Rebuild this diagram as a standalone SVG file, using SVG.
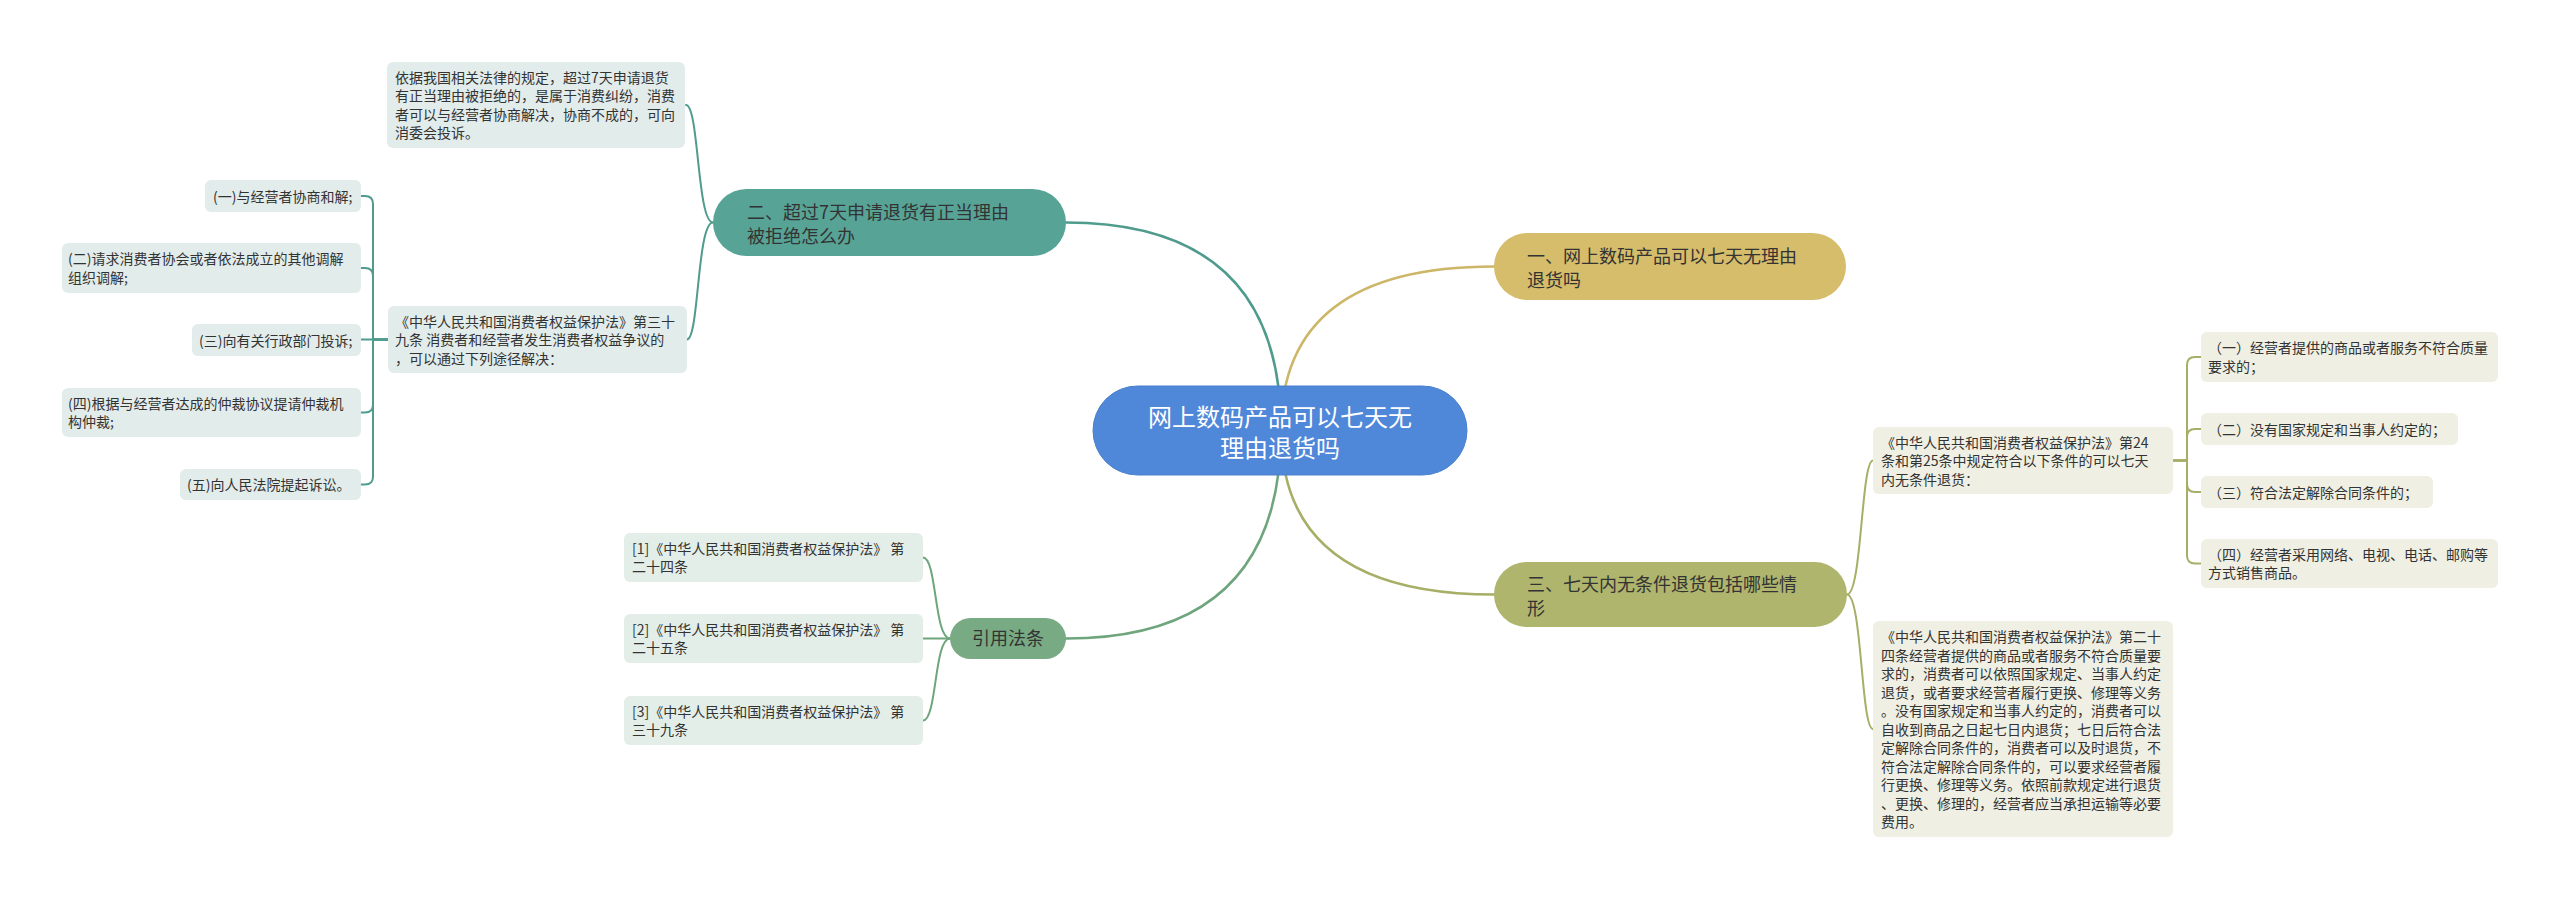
<svg xmlns="http://www.w3.org/2000/svg" width="2560" height="898" viewBox="0 0 2560 898">
<style>
text{font-family:"Noto Sans CJK SC","Microsoft YaHei",sans-serif;fill:#333333}
.c{font-size:24px;fill:#ffffff;text-anchor:middle}
.b{font-size:18px}
.l{font-size:14px}
.ln{fill:none;stroke-width:2.5;stroke-linecap:round}
.lt{fill:none;stroke-width:2;stroke-linecap:round}
.teal{stroke:#4f9b8d}
.gold{stroke:#cdb667}
.olive{stroke:#a7ae66}
.green{stroke:#6ea57c}
.ft{fill:#e2eceb}
.fg{fill:#e3eee8}
.fo{fill:#efefe3}
</style>
<rect width="2560" height="898" fill="#ffffff"/>
<g id="connectors">
<path class="ln teal" d="M1281,430 Q1281,222.5 1066,222.5"/>
<path class="ln gold" d="M1281,430 Q1281,266.5 1494,266.5"/>
<path class="ln green" d="M1281,430 Q1281,638.5 1066,638.5"/>
<path class="ln olive" d="M1281,430 Q1281,594.5 1494,594.5"/>
<path class="lt teal" d="M713,222.5 C697,222.5 699,105 686,105"/>
<path class="lt teal" d="M713,222.5 C697,222.5 699,339.5 687,339.5"/>
<path class="lt teal" d="M388,339.5 H373 V204 Q373,196 365,196 H361"/>
<path class="lt teal" d="M388,339.5 H373 V276 Q373,268 365,268 H361"/>
<path class="lt teal" d="M388,339.5 H361"/>
<path class="lt teal" d="M388,339.5 H373 V404.5 Q373,412.5 365,412.5 H361"/>
<path class="lt teal" d="M388,339.5 H373 V476.5 Q373,484.5 365,484.5 H361"/>
<path class="lt green" d="M950,638.5 C934,638.5 937,557.5 923,557.5"/>
<path class="lt green" d="M950,638.5 H923"/>
<path class="lt green" d="M950,638.5 C934,638.5 937,720.5 923,720.5"/>
<path class="lt olive" d="M1847,594.5 C1862,594.5 1861,460.5 1873,460.5"/>
<path class="lt olive" d="M1847,594.5 C1862,594.5 1861,729 1873,729"/>
<path class="lt olive" d="M2173,460.5 H2187 V365 Q2187,357 2195,357 H2201"/>
<path class="lt olive" d="M2173,460.5 H2187 V437 Q2187,429 2195,429 H2201"/>
<path class="lt olive" d="M2173,460.5 H2187 V484 Q2187,492 2195,492 H2201"/>
<path class="lt olive" d="M2173,460.5 H2187 V555.5 Q2187,563.5 2195,563.5 H2201"/>
</g>
<g id="center">
<rect x="1093" y="386" width="374" height="89" rx="44.5" fill="#4f87d9" stroke="#4a7fcc" stroke-width="1"/>
<text class="c" x="1280" y="425.5">网上数码产品可以七天无</text>
<text class="c" x="1280" y="456.5">理由退货吗</text>
</g>
<g id="branch1">
<rect x="1494" y="233" width="352" height="67" rx="33.5" fill="#d5bd6b"/>
<text class="b" x="1527" y="262.5">一、网上数码产品可以七天无理由</text>
<text class="b" x="1527" y="286.5">退货吗</text>
</g>
<g id="branch2">
<rect x="713" y="189" width="353" height="67" rx="33.5" fill="#57a497"/>
<text class="b" x="747" y="218.5">二、超过7天申请退货有正当理由</text>
<text class="b" x="747" y="242.5">被拒绝怎么办</text>
</g>
<g id="branch3">
<rect x="1494" y="562" width="353" height="65" rx="32.5" fill="#afb56d"/>
<text class="b" x="1527" y="590.5">三、七天内无条件退货包括哪些情</text>
<text class="b" x="1527" y="614.5">形</text>
</g>
<g id="branch4">
<rect x="950" y="618" width="116" height="41" rx="20.5" fill="#78aa84"/>
<text class="b" x="1008" y="645" text-anchor="middle">引用法条</text>
</g>
<g id="b2-leaf1">
<rect class="ft" x="387" y="62" width="298" height="86" rx="6"/>
<text class="l" x="395" y="82.75">依据我国相关法律的规定，超过7天申请退货</text>
<text class="l" x="395" y="101.25">有正当理由被拒绝的，是属于消费纠纷，消费</text>
<text class="l" x="395" y="119.75">者可以与经营者协商解决，协商不成的，可向</text>
<text class="l" x="395" y="138.25">消委会投诉。</text>
</g>
<g id="b2-leaf2">
<rect class="ft" x="388" y="306" width="299" height="67" rx="6"/>
<text class="l" x="395" y="326.5">《中华人民共和国消费者权益保护法》第三十</text>
<text class="l" x="395" y="345">九条 消费者和经营者发生消费者权益争议的</text>
<text class="l" x="395" y="363.5">，可以通过下列途径解决：</text>
</g>
<g id="way1">
<rect class="ft" x="205" y="180" width="156" height="32" rx="6"/>
<text class="l" x="213" y="201.5">(一)与经营者协商和解;</text>
</g>
<g id="way2">
<rect class="ft" x="62" y="243" width="299" height="50" rx="6"/>
<text class="l" x="68" y="264.25">(二)请求消费者协会或者依法成立的其他调解</text>
<text class="l" x="68" y="282.75">组织调解;</text>
</g>
<g id="way3">
<rect class="ft" x="192" y="324" width="169" height="32" rx="6"/>
<text class="l" x="199" y="345.5">(三)向有关行政部门投诉;</text>
</g>
<g id="way4">
<rect class="ft" x="62" y="388" width="299" height="49" rx="6"/>
<text class="l" x="68" y="408.75">(四)根据与经营者达成的仲裁协议提请仲裁机</text>
<text class="l" x="68" y="427.25">构仲裁;</text>
</g>
<g id="way5">
<rect class="ft" x="180" y="469" width="181" height="31" rx="6"/>
<text class="l" x="187" y="490">(五)向人民法院提起诉讼。</text>
</g>
<g id="ref1">
<rect class="fg" x="624" y="533" width="299" height="49" rx="6"/>
<text class="l" x="632" y="553.75">[1]《中华人民共和国消费者权益保护法》 第</text>
<text class="l" x="632" y="572.25">二十四条</text>
</g>
<g id="ref2">
<rect class="fg" x="624" y="614" width="299" height="49" rx="6"/>
<text class="l" x="632" y="634.75">[2]《中华人民共和国消费者权益保护法》 第</text>
<text class="l" x="632" y="653.25">二十五条</text>
</g>
<g id="ref3">
<rect class="fg" x="624" y="696" width="299" height="49" rx="6"/>
<text class="l" x="632" y="716.75">[3]《中华人民共和国消费者权益保护法》 第</text>
<text class="l" x="632" y="735.25">三十九条</text>
</g>
<g id="b3-leafA">
<rect class="fo" x="1873" y="427" width="300" height="67" rx="6"/>
<text class="l" x="1881" y="447.5">《中华人民共和国消费者权益保护法》第24</text>
<text class="l" x="1881" y="466">条和第25条中规定符合以下条件的可以七天</text>
<text class="l" x="1881" y="484.5">内无条件退货：</text>
</g>
<g id="b3-leafB">
<rect class="fo" x="1873" y="621" width="300" height="216" rx="6"/>
<text class="l" x="1881" y="642">《中华人民共和国消费者权益保护法》第二十</text>
<text class="l" x="1881" y="660.5">四条经营者提供的商品或者服务不符合质量要</text>
<text class="l" x="1881" y="679">求的，消费者可以依照国家规定、当事人约定</text>
<text class="l" x="1881" y="697.5">退货，或者要求经营者履行更换、修理等义务</text>
<text class="l" x="1881" y="716">。没有国家规定和当事人约定的，消费者可以</text>
<text class="l" x="1881" y="734.5">自收到商品之日起七日内退货；七日后符合法</text>
<text class="l" x="1881" y="753">定解除合同条件的，消费者可以及时退货，不</text>
<text class="l" x="1881" y="771.5">符合法定解除合同条件的，可以要求经营者履</text>
<text class="l" x="1881" y="790">行更换、修理等义务。依照前款规定进行退货</text>
<text class="l" x="1881" y="808.5">、更换、修理的，经营者应当承担运输等必要</text>
<text class="l" x="1881" y="827">费用。</text>
</g>
<g id="cond1">
<rect class="fo" x="2201" y="332" width="297" height="50" rx="6"/>
<text class="l" x="2208" y="353.25">（一）经营者提供的商品或者服务不符合质量</text>
<text class="l" x="2208" y="371.75">要求的；</text>
</g>
<g id="cond2">
<rect class="fo" x="2201" y="413" width="257" height="32" rx="6"/>
<text class="l" x="2208" y="434.5">（二）没有国家规定和当事人约定的；</text>
</g>
<g id="cond3">
<rect class="fo" x="2201" y="476" width="232" height="32" rx="6"/>
<text class="l" x="2208" y="497.5">（三）符合法定解除合同条件的；</text>
</g>
<g id="cond4">
<rect class="fo" x="2201" y="539" width="297" height="49" rx="6"/>
<text class="l" x="2208" y="559.75">（四）经营者采用网络、电视、电话、邮购等</text>
<text class="l" x="2208" y="578.25">方式销售商品。</text>
</g>
</svg>
